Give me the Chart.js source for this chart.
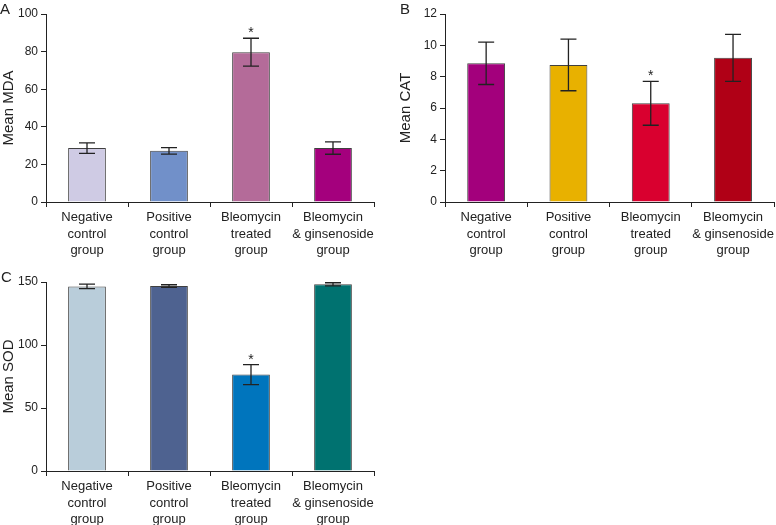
<!DOCTYPE html>
<html>
<head>
<meta charset="utf-8">
<script src="https://cdn.jsdelivr.net/npm/chart.js@4.4.1/dist/chart.umd.min.js"></script>
<style>
  body { margin: 0; background: #fff; }
  #page { position: relative; width: 776px; height: 525px; overflow: hidden; }
  .panel { position: absolute; }
  .letter { position: absolute; font: 15px "Liberation Sans", Arial, sans-serif; color: #222; }
</style>
</head>
<body>
<div id="page">
  <div class="panel" style="left:0;top:0"><canvas id="chartA" width="385" height="260"></canvas></div>
  <div class="panel" style="left:385px;top:0"><canvas id="chartB" width="391" height="260"></canvas></div>
  <div class="panel" style="left:0;top:260px"><canvas id="chartC" width="385" height="265"></canvas></div>
  <div class="letter" style="left:0;top:0">A</div>
  <div class="letter" style="left:400px;top:0">B</div>
  <div class="letter" style="left:1px;top:268px">C</div>
</div>
<script>
// groups (3-line tick labels)
const categories = [
    ['Negative', 'control', 'group'],
    ['Positive', 'control', 'group'],
    ['Bleomycin', 'treated', 'group'],
    ['Bleomycin', '& ginsenoside', 'group']
];
const significant = [false, false, true, false];

// A - MDA
const mdaMeans = [28.7, 27.2, 79.7, 28.7];
const mdaErrors = [2.8, 1.7, 7.4, 3.3];
const mdaColors = ['#cfcbe4', '#7190c9', '#b46b99', '#a4007d'];

// B - CAT
const catMeans = [8.85, 8.75, 6.3, 9.2];
const catErrors = [1.35, 1.65, 1.4, 1.5];
const catColors = ['#a3007c', '#e8b100', '#d9002f', '#b00016'];

// C - SOD
const sodMeans = [146.5, 146.8, 76.5, 148.2];
const sodErrors = [1.8, 1.0, 8.0, 1.2];
const sodColors = ['#b9cdda', '#4e6290', '#0075bd', '#007270'];

const FONT = '"Liberation Sans", Arial, sans-serif';
const INK = '#222';

// error bars + asterisk
const errorBarPlugin = {
    id: 'errorBars',
    afterDatasetsDraw(chart, args, opts) {
        const ctx = chart.ctx;
        const meta = chart.getDatasetMeta(0);
        const yScale = chart.scales.y;
        const errs = opts.errors || [];
        ctx.save();
        ctx.strokeStyle = INK;
        ctx.lineWidth = 1.3;
        meta.data.forEach(function(bar, i) {
            const v = chart.data.datasets[0].data[i];
            const top = yScale.getPixelForValue(v + errs[i]);
            const bot = yScale.getPixelForValue(v - errs[i]);
            const x = bar.x;
            const half = 8;
            ctx.beginPath();
            ctx.moveTo(x, top); ctx.lineTo(x, bot);
            ctx.moveTo(x - half, top); ctx.lineTo(x + half, top);
            ctx.moveTo(x - half, bot); ctx.lineTo(x + half, bot);
            ctx.stroke();
            if (significant[i]) {
                ctx.fillStyle = INK;
                ctx.font = '14px ' + FONT;
                ctx.textAlign = 'center';
                ctx.textBaseline = 'alphabetic';
                ctx.fillText('*', x, top - 1);
            }
        });
        ctx.restore();
    }
};

function drawPanel(id, means, errors, colors, title, yMax, step, pad, yWidth, xHeight) {
    const el = document.getElementById(id);
    return new Chart(el, {
        type: 'bar',
        data: {
            labels: categories,
            datasets: [{
                data: means,
                backgroundColor: colors,
                borderColor: '#404040',
                borderWidth: 1,
                borderSkipped: 'start',
                categoryPercentage: 1,
                barPercentage: 0.46
            }]
        },
        options: {
            responsive: false,
            animation: false,
            layout: { padding: pad },
            plugins: {
                legend: { display: false },
                tooltip: { enabled: false },
                errorBars: { errors: errors }
            },
            scales: {
                x: {
                    grid: { drawOnChartArea: false, offset: true, tickLength: 5, color: INK, lineWidth: 1 },
                    border: { color: INK, width: 1 },
                    ticks: { color: INK, padding: 2, font: { family: FONT, size: 13, lineHeight: 1.28 }, maxRotation: 0, autoSkip: false },
                    afterFit: function(s) { s.height = xHeight; }
                },
                y: {
                    min: 0,
                    max: yMax,
                    grid: { drawOnChartArea: false, tickLength: 5, color: INK, lineWidth: 1 },
                    border: { color: INK, width: 1 },
                    ticks: { stepSize: step, color: INK, padding: 3, font: { family: FONT, size: 12 } },
                    title: { display: true, text: title, color: INK, padding: { top: 0, bottom: 0 }, font: { family: FONT, size: 15 } },
                    afterFit: function(s) { s.width = yWidth; }
                }
            }
        },
        plugins: [errorBarPlugin]
    });
}

drawPanel('chartA', mdaMeans, mdaErrors, mdaColors, 'Mean MDA', 100, 20,
    { top: 14, right: 11, left: 0, bottom: 0 }, 46, 58);
drawPanel('chartB', catMeans, catErrors, catColors, 'Mean CAT', 12, 2,
    { top: 14, right: 1, left: 12, bottom: 0 }, 48, 58);
drawPanel('chartC', sodMeans, sodErrors, sodColors, 'Mean SOD', 150, 50,
    { top: 22, right: 11, left: 0, bottom: 0 }, 46, 54);
</script>
</body>
</html>
